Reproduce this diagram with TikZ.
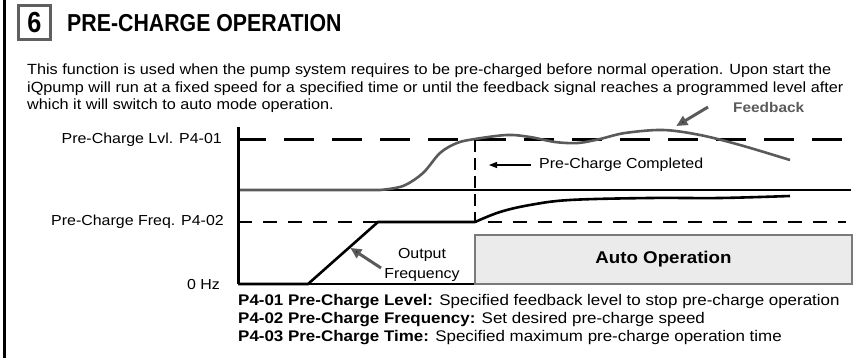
\documentclass[tikz,border=0pt]{standalone}
\usepackage{fontspec}
\setmainfont{Liberation Sans}
\newfontfamily\bodyfont[FakeStretch=1.1]{Liberation Sans}
\newfontfamily\headfont[FakeStretch=0.87]{Liberation Sans}
\usetikzlibrary{arrows.meta,positioning}
\definecolor{ink}{HTML}{000000}
\definecolor{curvegray}{HTML}{5A5A5A}
\definecolor{panelgray}{HTML}{EBEBEB}
\definecolor{edgegray}{HTML}{7A7A7A}
\definecolor{numgray}{HTML}{5F5F5F}

\begin{document}
\begin{tikzpicture}[
  x=1pt,y=-1pt,
  txt/.style={inner sep=0pt,font=\bodyfont\fontsize{14.5}{17.5}\selectfont,text=ink},
  numbox/.style={draw=numgray,line width=3pt,minimum width=32pt,minimum height=34pt,inner sep=0pt,font=\headfont\fontsize{29}{29}\selectfont\bfseries},
  autobox/.style={draw=edgegray,fill=panelgray,line width=1.3pt,inner sep=0pt,font=\bodyfont\fontsize{17}{18}\selectfont\bfseries},
  level/.style={line width=3pt,dash pattern=on 30pt off 18pt,dash phase=2pt},
  freq/.style={line width=1.5pt,dash pattern=on 14pt off 11pt},
  donemark/.style={line width=1.8pt,dash pattern=on 12pt off 6pt},
  fb/.style={line width=2.6pt,draw=curvegray},
  outf/.style={line width=2.6pt,draw=ink},
  ptr/.style={-{Triangle[length=11pt,width=10pt,fill=ink]},line width=3pt,draw=curvegray,shorten >=-2pt},
  thinptr/.style={-{Triangle[length=8pt,width=6pt]},line width=1.2pt,draw=ink}
]
\useasboundingbox (0,0) rectangle (865,358);

% Heading
\draw[line width=3pt] (4,0) -- (4,358);
\node[numbox] (num) at (34.5,22.5) {6};
\node[txt,anchor=west,font=\headfont\fontsize{24.5}{26}\selectfont\bfseries] (title) at (67,23) {PRE-CHARGE OPERATION};
\node[txt,anchor=north west,align=left,font=\bodyfont\fontsize{14.75}{17.5}\selectfont] (intro) at (27,64) {This function is used when the pump system requires to be pre-charged before normal operation. Upon start the\\
iQpump will run at a fixed speed for a specified time or until the feedback signal reaches a programmed level after\\
which it will switch to auto mode operation.};

% Axes and levels
\node[txt,anchor=east] (lvl) at (222,140) {Pre-Charge Lvl. P4-01};
\node[txt,anchor=east] (frq) at (224,222) {Pre-Charge Freq. P4-02};
\node[txt,anchor=east] (zero) at (220,285) {0 Hz};
\coordinate (top) at (238,127);
\coordinate (orig) at (238,284);
\draw[level] (238,140) -- (846,140);
\draw[line width=1.2pt] (238,190) -- (851,190);
\draw[freq] (238,222) -- (846,222);
\draw[line width=1.2pt] (orig) -- (852,284);

% Auto operation
\node[autobox,minimum width=377pt,minimum height=49pt] (auto) at (663.5,259.5) {Auto Operation};

% Curves
\draw[fb] (238,190) -- (380,190) plot[smooth,tension=0.55] coordinates {(380,190) (403,186) (423,173) (440,153) (457,143) (475,139) (507,135) (530,137) (555,142) (578,143) (600,139) (625,133) (663,130) (700,135) (740,145) (790,160)};
\draw[outf] (orig) -- (308,284) -- (378,222) -- (475,222) plot[smooth,tension=0.6] coordinates {(475,222) (500,212) (530,205) (570,200) (650,198) (720,198) (790,196)};
\draw[donemark] (475,140) -- (475,222);
\draw[line width=3pt] (top) -- (orig);

% Annotations
\node[txt,anchor=west] (done) at (539,165) {Pre-Charge Completed};
\coordinate (donetip) at (489,165);
\coordinate (donetail) at (531,165);
\draw[thinptr] (donetail) -- (donetip);
\node[txt,anchor=west,text=curvegray,font=\bodyfont\fontsize{14}{17}\selectfont\bfseries] (fbk) at (733,107) {Feedback};
\coordinate (fbpeak) at (678,125);
\draw[ptr] (708,107) -- (fbpeak);
\node[txt,align=center,font=\bodyfont\fontsize{14.5}{20.5}\selectfont] (outlbl) at (422,265) {Output\\Frequency};
\coordinate (ramp) at (352,249);
\draw[ptr] (381,268) -- (ramp);

% Parameter notes
\node[txt,anchor=north west,align=left,font=\bodyfont\fontsize{15.4}{18}\selectfont] (notes) at (238,294) {\textbf{P4-01 Pre-Charge Level:} Specified feedback level to stop pre-charge operation\\
\textbf{P4-02 Pre-Charge Frequency:} Set desired pre-charge speed\\
\textbf{P4-03 Pre-Charge Time:} Specified maximum pre-charge operation time};
\end{tikzpicture}
\end{document}
